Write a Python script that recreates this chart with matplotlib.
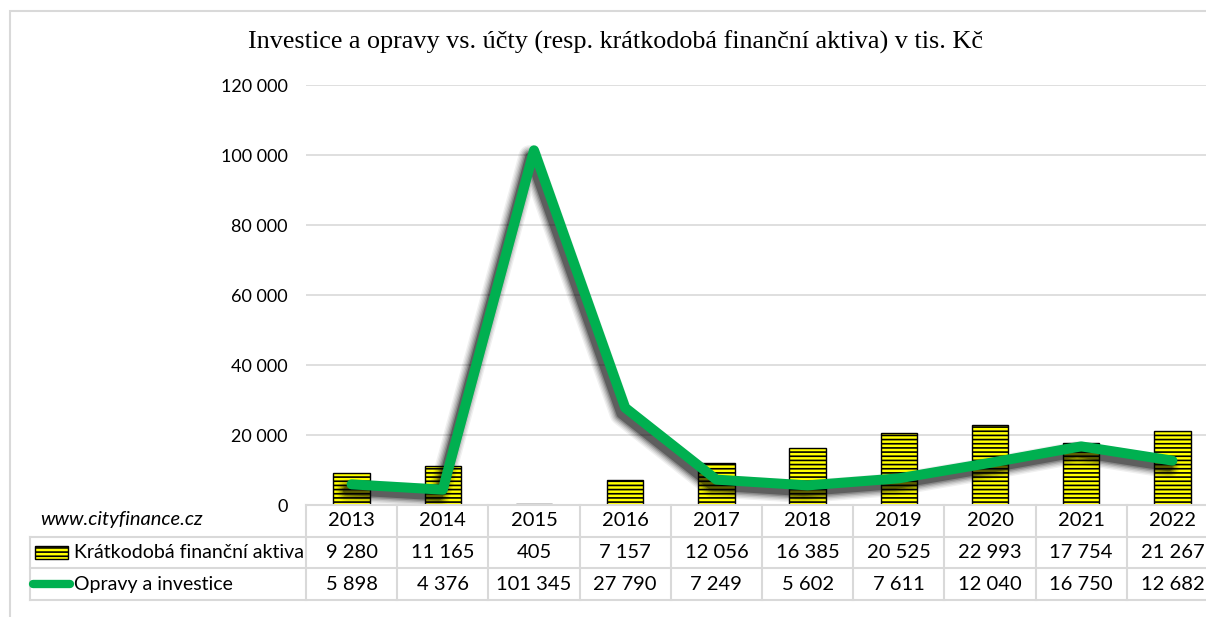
import matplotlib
matplotlib.use("Agg")
import matplotlib.pyplot as plt
import matplotlib.patheffects as pe
from matplotlib.patches import Rectangle
from matplotlib.lines import Line2D
import numpy as np

years = ["2013", "2014", "2015", "2016", "2017", "2018", "2019", "2020", "2021", "2022"]
aktiva = [9280, 11165, 405, 7157, 12056, 16385, 20525, 22993, 17754, 21267]
opravy = [5898, 4376, 101345, 27790, 7249, 5602, 7611, 12040, 16750, 12682]
aktiva_lbl = ["9 280", "11 165", "405", "7 157", "12 056", "16 385", "20 525", "22 993", "17 754", "21 267"]
opravy_lbl = ["5 898", "4 376", "101 345", "27 790", "7 249", "5 602", "7 611", "12 040", "16 750", "12 682"]
yticks = [0, 20000, 40000, 60000, 80000, 100000, 120000]
ytick_lbl = ["0", "20 000", "40 000", "60 000", "80 000", "100 000", "120 000"]
series_names = ["Krátkodobá finanční aktiva", "Opravy a investice"]
title = "Investice a opravy vs. účty (resp. krátkodobá finanční aktiva) v tis. Kč"
watermark = "www.cityfinance.cz"

W, H = 1206, 617
fig = plt.figure(figsize=(W / 100, H / 100), dpi=100)
FONT = "Lato"
GREEN = "#00B050"
GRID = "#D9D9D9"
TFS = 14.5

def px_box(x0, y0, x1, y1):
    return [x0 / W, 1 - y1 / H, (x1 - x0) / W, (y1 - y0) / H]

# outer chart border
fig.patches.append(Rectangle((10 / W, -0.1), 1.2, 1 - 11 / H + 0.1, transform=fig.transFigure,
                             fill=False, edgecolor="#D9D9D9", linewidth=1.5))

ax = fig.add_axes(px_box(306, 85, 1218, 505))
x = np.arange(len(years))
ax.set_xlim(-0.5, len(years) - 0.5)
ax.set_ylim(0, 120000)
ax.set_yticks(yticks)
ax.set_yticklabels(ytick_lbl, fontsize=13, family=FONT, color="#000000")
ax.tick_params(axis="y", length=0, pad=13)
ax.tick_params(axis="x", bottom=False, labelbottom=False)
for s in ax.spines.values():
    s.set_visible(False)
ax.grid(axis="y", color=GRID, linewidth=1.2)
ax.set_axisbelow(True)

plt.rcParams["hatch.linewidth"] = 1.2
ax.bar(x, aktiva, width=0.4, color="#FFFF00", edgecolor="#000000", hatch="----", linewidth=1.0, zorder=2)

# shadow layers (pseudo blur)
shadow_fx = []
for lw_add, a in [(10, 0.06), (8, 0.08), (6, 0.10), (4, 0.14), (2, 0.2), (0, 0.3)]:
    shadow_fx.append(pe.SimpleLineShadow(offset=(-3, -4.5), shadow_color="black", alpha=a,
                                         linewidth=6.5 + lw_add))
shadow_fx.append(pe.Normal())
ax.plot(x, opravy, color=GREEN, linewidth=7.2, solid_capstyle="round", solid_joinstyle="round",
        zorder=3, path_effects=shadow_fx)

fig.text(615 / W, 1 - 42 / H, title, ha="center", va="center", fontsize=18.8,
         family="Liberation Serif", color="#000000")

# data table
tax = fig.add_axes(px_box(306, 505, 1218, 600), sharex=ax)
tax.set_ylim(3, 0)
tax.axis("off")
LC = "#D9D9D9"
row_y = [0.5, 1.5, 2.5]
left = -0.5 - (306 - 30) / 91.2
tax.plot([-0.5, 9.5], [0, 0], color=LC, lw=1.5, clip_on=False)
for yy in [1, 2, 3]:
    tax.plot([left, 9.5], [yy, yy], color=LC, lw=1.5, clip_on=False)
for xx in np.arange(-0.5, 10, 1.0):
    tax.plot([xx, xx], [0, 3], color=LC, lw=1.5, clip_on=False)
tax.plot([left, left], [1, 3], color=LC, lw=1.5, clip_on=False)

for i in range(len(years)):
    tax.text(x[i], row_y[0], years[i], ha="center", va="center", fontsize=TFS, family=FONT, clip_on=False)
    tax.text(x[i], row_y[1], aktiva_lbl[i], ha="center", va="center", fontsize=TFS, family=FONT, clip_on=False)
    tax.text(x[i], row_y[2], opravy_lbl[i], ha="center", va="center", fontsize=TFS, family=FONT, clip_on=False)

# legend keys
kx0 = left + 5 / 91.2
kx1 = left + 38 / 91.2
tax.add_patch(Rectangle((kx0, 1.3), kx1 - kx0, 0.42, facecolor="#FFFF00", edgecolor="black",
                        hatch="----", lw=1.0, clip_on=False))
tax.add_line(Line2D([left + 3 / 91.2, left + 40 / 91.2], [2.5, 2.5], color=GREEN, lw=6,
                    solid_capstyle="round", clip_on=False))
tax.text(left + 44 / 91.2, row_y[1], series_names[0], ha="left", va="center", fontsize=14,
         family=FONT, clip_on=False)
tax.text(left + 44 / 91.2, row_y[2], series_names[1], ha="left", va="center", fontsize=14,
         family=FONT, clip_on=False)

fig.text(40 / W, 1 - 519 / H, watermark, ha="left", va="center", fontsize=14.5, family=FONT,
         style="italic", color="#000000")

fig.savefig("out.png", dpi=100)
